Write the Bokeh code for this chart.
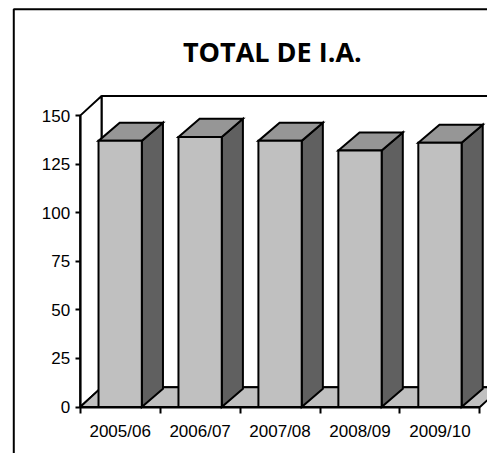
from bokeh.plotting import figure
from bokeh.models import Range1d, LinearAxis, FixedTicker, ColumnDataSource
from bokeh.core.properties import value
from bokeh.embed import file_html
from bokeh.resources import INLINE

# ---- data ----
categories = ["2005/06", "2006/07", "2007/08", "2008/09", "2009/10"]
totals = [137, 139, 137, 132, 136]
y_ticks = [0, 25, 50, 75, 100, 125, 150]
title_text = "TOTAL DE I.A."

# ---- layout constants ----
W, H = 487, 453
SX, SY = W / 495.0, H / 461.0          # reference picture -> canvas
X0, UX = 81.0 * SX, 81.26 * SX         # canvas x of boundary 0, px per category
Y0, UY = 413.7 * SY, 1.977 * SY        # canvas y of value 0, px per value unit

def dx(px):
    return px * SX / UX

def dy(px):
    return px * SY / UY

def cx(px):
    return (px * SX - X0) / UX

def cy(py):
    return (Y0 - py * SY) / UY

n = len(categories)
ymax = y_ticks[-1]

p = figure(width=W, height=H, output_backend="svg", toolbar_location=None,
           title=None, x_axis_location=None, y_axis_location=None,
           x_range=Range1d(cx(0), cx(495)), y_range=Range1d(cy(461), cy(0)),
           min_border=0, outline_line_color=None,
           background_fill_color="white", border_fill_color="white")
p.grid.visible = False

LW = 2

# ---- walls and floor ----
wx, wy = dx(21.7), dy(20)
p.patch([wx, n + wx, n + wx, wx], [wy, wy, ymax + wy, ymax + wy],
        fill_color="white", line_color="black", line_width=LW)
p.patch([0, wx, wx, 0], [0, wy, ymax + wy, ymax],
        fill_color="white", line_color="black", line_width=LW)
p.patch([0, n, n + wx, wx], [0, 0, wy, wy],
        fill_color="#c0c0c0", line_color="black", line_width=LW)

# ---- bars ----
hw = dx(22.0)
bx, by = dx(21.5), dy(18.5)
centers = [i + 0.5 for i in range(n)]

front = ColumnDataSource(dict(
    left=[c - hw for c in centers], right=[c + hw for c in centers],
    bottom=[0] * n, top=totals, cat=categories))
tops = ColumnDataSource(dict(
    xs=[[c - hw, c + hw, c + hw + bx, c - hw + bx] for c in centers],
    ys=[[v, v, v + by, v + by] for v in totals]))
sides = ColumnDataSource(dict(
    xs=[[c + hw, c + hw + bx, c + hw + bx, c + hw] for c in centers],
    ys=[[0, by, v + by, v] for v in totals]))

p.patches("xs", "ys", source=sides, fill_color="#606060",
          line_color="black", line_width=LW, line_join="miter")
p.patches("xs", "ys", source=tops, fill_color="#969696",
          line_color="black", line_width=LW, line_join="miter")
p.quad(left="left", right="right", bottom="bottom", top="top", source=front,
       fill_color="#c0c0c0", line_color="black", line_width=LW, line_join="miter")

# ---- outer chart-area border (left and top edges visible) ----
p.line([cx(13.5), cx(13.5), cx(520)], [cy(480), cy(9), cy(9)],
       line_color="black", line_width=LW)

# ---- title ----
p.text(x=[cx(276.3)], y=[cy(51.7)], text=[title_text],
       text_font=value("Open Sans"), text_font_style="bold",
       text_font_size="27px", text_align="center",
       text_baseline="alphabetic", text_color="black")

# ---- axes ----
yaxis = LinearAxis(fixed_location=0, bounds=(0, ymax),
                   ticker=FixedTicker(ticks=y_ticks, minor_ticks=[]))
yaxis.axis_line_color = "black"
yaxis.axis_line_width = LW
yaxis.major_tick_in = 0
yaxis.major_tick_out = 5
yaxis.major_tick_line_width = LW
yaxis.minor_tick_in = 0
yaxis.minor_tick_out = 0
yaxis.major_label_standoff = 5
yaxis.major_label_text_font = "Liberation Sans"
yaxis.major_label_text_font_size = "17px"
yaxis.major_label_text_color = "black"
p.add_layout(yaxis, "left")

xaxis = LinearAxis(fixed_location=0, bounds=(0, n),
                   ticker=FixedTicker(ticks=centers, minor_ticks=list(range(n + 1))))
xaxis.axis_line_color = "black"
xaxis.axis_line_width = LW
xaxis.major_tick_in = 0
xaxis.major_tick_out = 0
xaxis.major_tick_line_color = None
xaxis.minor_tick_in = 0
xaxis.minor_tick_out = 6
xaxis.minor_tick_line_color = "black"
xaxis.minor_tick_line_width = LW
xaxis.major_label_overrides = {c: cat for c, cat in zip(centers, categories)}
xaxis.major_label_standoff = 9
xaxis.major_label_text_font = "Liberation Sans"
xaxis.major_label_text_font_size = "17px"
xaxis.major_label_text_color = "black"
p.add_layout(xaxis, "below")

open("out.html", "w").write(file_html(p, INLINE))
